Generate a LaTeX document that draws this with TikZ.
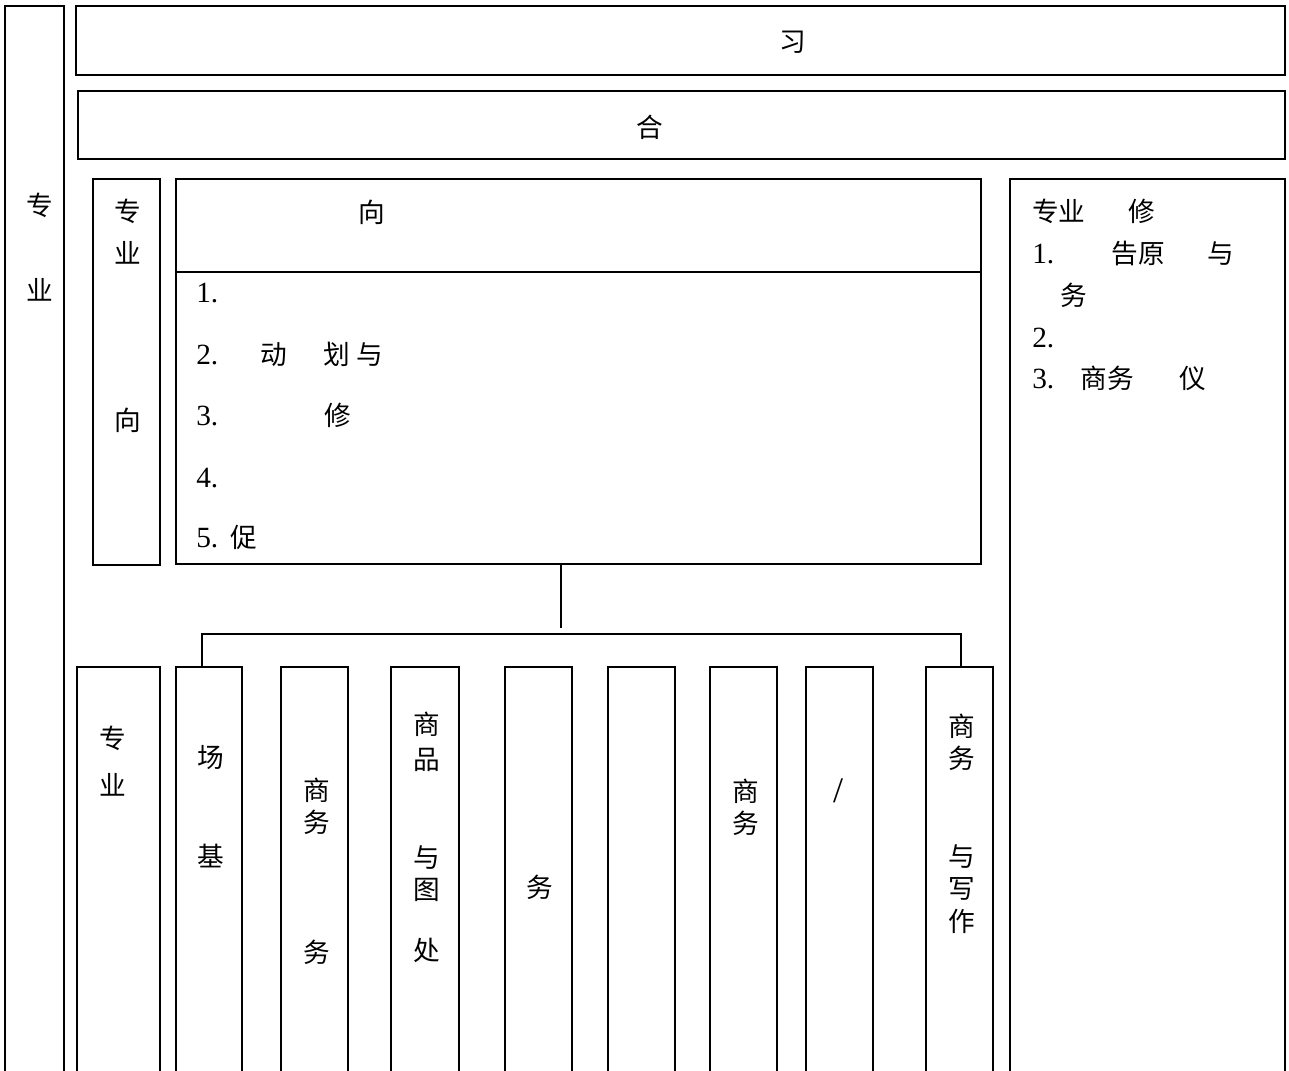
\documentclass[tikz,border=0pt]{standalone}
\usepackage{fontspec}
\setmainfont{Liberation Serif}
\newfontfamily\cjk{Noto Sans CJK SC}
\usetikzlibrary{fit}
\tikzset{
  box/.style={draw,line width=1.3pt,inner sep=0pt,rectangle},
  ch/.style={font=\fontsize{20}{24}\selectfont\cjk,inner sep=0pt},
  txt/.style={font=\fontsize{22}{26}\selectfont,inner sep=0pt,anchor=west},
  link/.style={line width=1.3pt}
}
\newcommand\zh[1]{{\fontsize{20}{24}\selectfont\cjk #1}}
\begin{document}
\begin{tikzpicture}[x=0.75pt,y=-0.75pt]
\clip (0,0) rectangle (1289,1071);
% frames
\node[box,fit={(5,6)(64,1090)}] (outer) {};
\node[box,fit={(76,6)(1285,75)}] (top1) {};
\node[box,fit={(78,91)(1285,159)}] (top2) {};
\node[box,fit={(93,179)(160,565)}] (dirl) {};
\node[box,fit={(176,179)(981,564)}] (main) {};
\draw[link] (main.west |- 0,272) -- (main.east |- 0,272);
\node[box,fit={(1010,179)(1285,1090)}] (elect) {};
% bottom columns
\node[box,fit={(77,667)(160,1090)}] (b1) {};
\node[box,fit={(176,667)(242,1090)}] (b2) {};
\node[box,fit={(281,667)(348,1090)}] (b3) {};
\node[box,fit={(391,667)(459,1090)}] (b4) {};
\node[box,fit={(505,667)(572,1090)}] (b5) {};
\node[box,fit={(608,667)(675,1090)}] (b6) {};
\node[box,fit={(710,667)(777,1090)}] (b7) {};
\node[box,fit={(806,667)(873,1090)}] (b8) {};
\node[box,fit={(926,667)(993,1090)}] (b9) {};
% connectors
\coordinate (j) at (561,628);
\coordinate (hl) at (202,634);
\coordinate (hr) at (961,634);
\draw[link] (j |- main.south) -- (j);
\draw[link] (hl |- b2.north) -- (hl) -- (hr) -- (hr |- b9.north);
% top texts
\node[ch] (t1) at (793,42) {习};
\node[ch] (t2) at (650,127) {合};
\node[ch] (mh) at (372,212) {向};
% vertical texts
\foreach \c/\y [count=\k] in {专/205,业/290} \node[ch] (ot\k) at (40,\y) {\c};
\foreach \c/\y [count=\k] in {专/211,业/253,向/420} \node[ch] (dt\k) at (128,\y) {\c};
\foreach \c/\y [count=\k] in {专/738,业/785} \node[ch] (b1t\k) at (113,\y) {\c};
\foreach \c/\y [count=\k] in {场/758,基/856} \node[ch] (b2t\k) at (211,\y) {\c};
\foreach \c/\y [count=\k] in {商/790,务/822,务/952} \node[ch] (b3t\k) at (317,\y) {\c};
\foreach \c/\y [count=\k] in {商/724,品/760,与/858,图/890,处/950} \node[ch] (b4t\k) at (427,\y) {\c};
\foreach \c/\y [count=\k] in {务/887} \node[ch] (b5t\k) at (540,\y) {\c};
\foreach \c/\y [count=\k] in {商/791,务/823} \node[ch] (b7t\k) at (746,\y) {\c};
\node[inner sep=0pt,font=\fontsize{27}{30}\selectfont] (b8t1) at (838,791) {/};
\foreach \c/\y [count=\k] in {商/726,务/758,与/857,写/889,作/921} \node[ch] (b9t\k) at (962,\y) {\c};
% main list
\node[txt] (m1) at (196,293) {1.};
\node[txt] (m2) at (196,354) {2.\hspace{32pt}\zh{动\hspace{27pt}划\hspace{4.5pt}与}};
\node[txt] (m3) at (196,415) {3.\hspace{80pt}\zh{修}};
\node[txt] (m4) at (196,478) {4.};
\node[txt] (m5) at (196,537) {5.\hspace{9pt}\zh{促}};
% elective list
\node[txt] (e0) at (1032,211) {\zh{专业\hspace{32pt}修}};
\node[txt] (e1) at (1032,253) {1.\hspace{43pt}\zh{告原\hspace{32pt}与}};
\node[txt] (e1b) at (1060,295) {\zh{务}};
\node[txt] (e2) at (1032,338) {2.};
\node[txt] (e3) at (1032,378) {3.\hspace{20pt}\zh{商务\hspace{34pt}仪}};
\end{tikzpicture}
\end{document}
